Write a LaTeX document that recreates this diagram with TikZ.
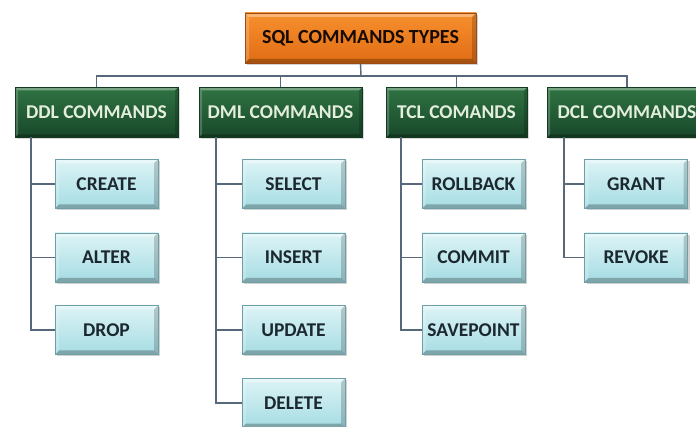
\documentclass[tikz,border=0pt]{standalone}
\usepackage{fontspec}
\setmainfont{Carlito}
\usetikzlibrary{shadows}
\definecolor{orA}{HTML}{F7902E}
\definecolor{orB}{HTML}{E06C14}
\definecolor{orD}{HTML}{9A4A12}
\definecolor{grA}{HTML}{2F7342}
\definecolor{grB}{HTML}{18472A}
\definecolor{grD}{HTML}{123A20}
\definecolor{grT}{HTML}{E4EEDC}
\definecolor{blA}{HTML}{DDF4F6}
\definecolor{blB}{HTML}{A5DCE3}
\definecolor{blD}{HTML}{6E9EA6}
\definecolor{blT}{HTML}{1C2830}
\definecolor{lineC}{HTML}{56687A}
\tikzset{
  x=1pt, y=-1pt,
  bevel/.style={path picture={
    \def\bb{path picture bounding box}
    \fill[white,opacity=0.35] (\bb.north west) -- (\bb.north east)
      -- ([xshift=-#1,yshift=-#1]\bb.north east) -- ([xshift=#1,yshift=-#1]\bb.north west) -- cycle;
    \fill[white,opacity=0.2] (\bb.north west) -- ([xshift=#1,yshift=-#1]\bb.north west)
      -- ([xshift=#1,yshift=#1]\bb.south west) -- (\bb.south west) -- cycle;
    \fill[black,opacity=0.25] (\bb.south west) -- (\bb.south east)
      -- ([xshift=-#1,yshift=#1]\bb.south east) -- ([xshift=#1,yshift=#1]\bb.south west) -- cycle;
    \fill[black,opacity=0.18] (\bb.north east) -- ([xshift=-#1,yshift=-#1]\bb.north east)
      -- ([xshift=-#1,yshift=#1]\bb.south east) -- (\bb.south east) -- cycle;
  }},
  rootbox/.style={draw=orD, line width=0.8pt, top color=orA, bottom color=orB,
    minimum width=231pt, minimum height=50pt, inner sep=0pt, bevel=4pt,
    font=\bfseries\fontsize{20}{22}\selectfont, text=black!85!orD,
    drop shadow={shadow xshift=2pt, shadow yshift=-2pt, opacity=0.35}},
  catbox/.style={draw=grD, line width=0.8pt, top color=grA, bottom color=grB,
    minimum width=162pt, minimum height=50pt, inner sep=0pt, bevel=3pt,
    font=\bfseries\fontsize{19.5}{21}\selectfont, text=grT,
    drop shadow={shadow xshift=2pt, shadow yshift=-2pt, opacity=0.3}},
  itembox/.style={draw=blD, line width=0.8pt, top color=blA, bottom color=blB,
    minimum width=103pt, minimum height=49pt, inner sep=0pt, bevel=4pt,
    font=\bfseries\fontsize{19.5}{21}\selectfont, text=blT,
    drop shadow={shadow xshift=2pt, shadow yshift=-2pt, opacity=0.35}},
  conn/.style={draw=lineC, line width=1.4pt},
}
\begin{document}
\begin{tikzpicture}
\useasboundingbox (0,0) rectangle (696,427);
\fill[white] (0,0) rectangle (696,427);
% root
\node[rootbox] (root) at (360.5,38) {SQL COMMANDS TYPES};
% categories
\node[catbox, minimum width=163pt] (ddl) at (96.5,112.5) {DDL COMMANDS};
\node[catbox, minimum width=163pt] (dml) at (280.5,112.5) {DML COMMANDS};
\node[catbox, minimum width=141pt] (tcl) at (456.5,112.5) {TCL COMANDS};
\node[catbox, minimum width=160pt] (dcl) at (627,112.5) {DCL COMMANDS};
% bus
\coordinate (bus) at (361,76);
\draw[conn] (root.south) -- (bus);
\draw[conn] (ddl.north) |- (bus);
\draw[conn] (dcl.north) |- (bus);
\draw[conn] (dml.north) -- (dml.north |- bus);
\draw[conn] (tcl.north) -- (tcl.north |- bus);
% items
\node[itembox] (create) at (106.5,184) {CREATE};
\node[itembox] (alter) at (106.5,257.5) {ALTER};
\node[itembox] (drop) at (106.5,330) {DROP};
\node[itembox] (select) at (293.5,184) {SELECT};
\node[itembox] (insert) at (293.5,257.5) {INSERT};
\node[itembox] (update) at (293.5,330) {UPDATE};
\node[itembox] (delete) at (293.5,403) {DELETE};
\node[itembox] (rollback) at (473.5,184) {ROLLBACK};
\node[itembox] (commit) at (473.5,257.5) {COMMIT};
\node[itembox] (savepoint) at (473.5,330) {SAVEPOINT};
\node[itembox] (grant) at (636,184) {GRANT};
\node[itembox] (revoke) at (636,257.5) {REVOKE};
% trunks
\coordinate (ddlt) at (31,137.5);
\coordinate (dmlt) at (216,137.5);
\coordinate (tclt) at (401,137.5);
\coordinate (dclt) at (564,137.5);
\foreach \t/\c in {ddlt/create, ddlt/alter, ddlt/drop,
  dmlt/select, dmlt/insert, dmlt/update, dmlt/delete,
  tclt/rollback, tclt/commit, tclt/savepoint,
  dclt/grant, dclt/revoke}
  \draw[conn] (\t) |- (\c.west);
\end{tikzpicture}
\end{document}
